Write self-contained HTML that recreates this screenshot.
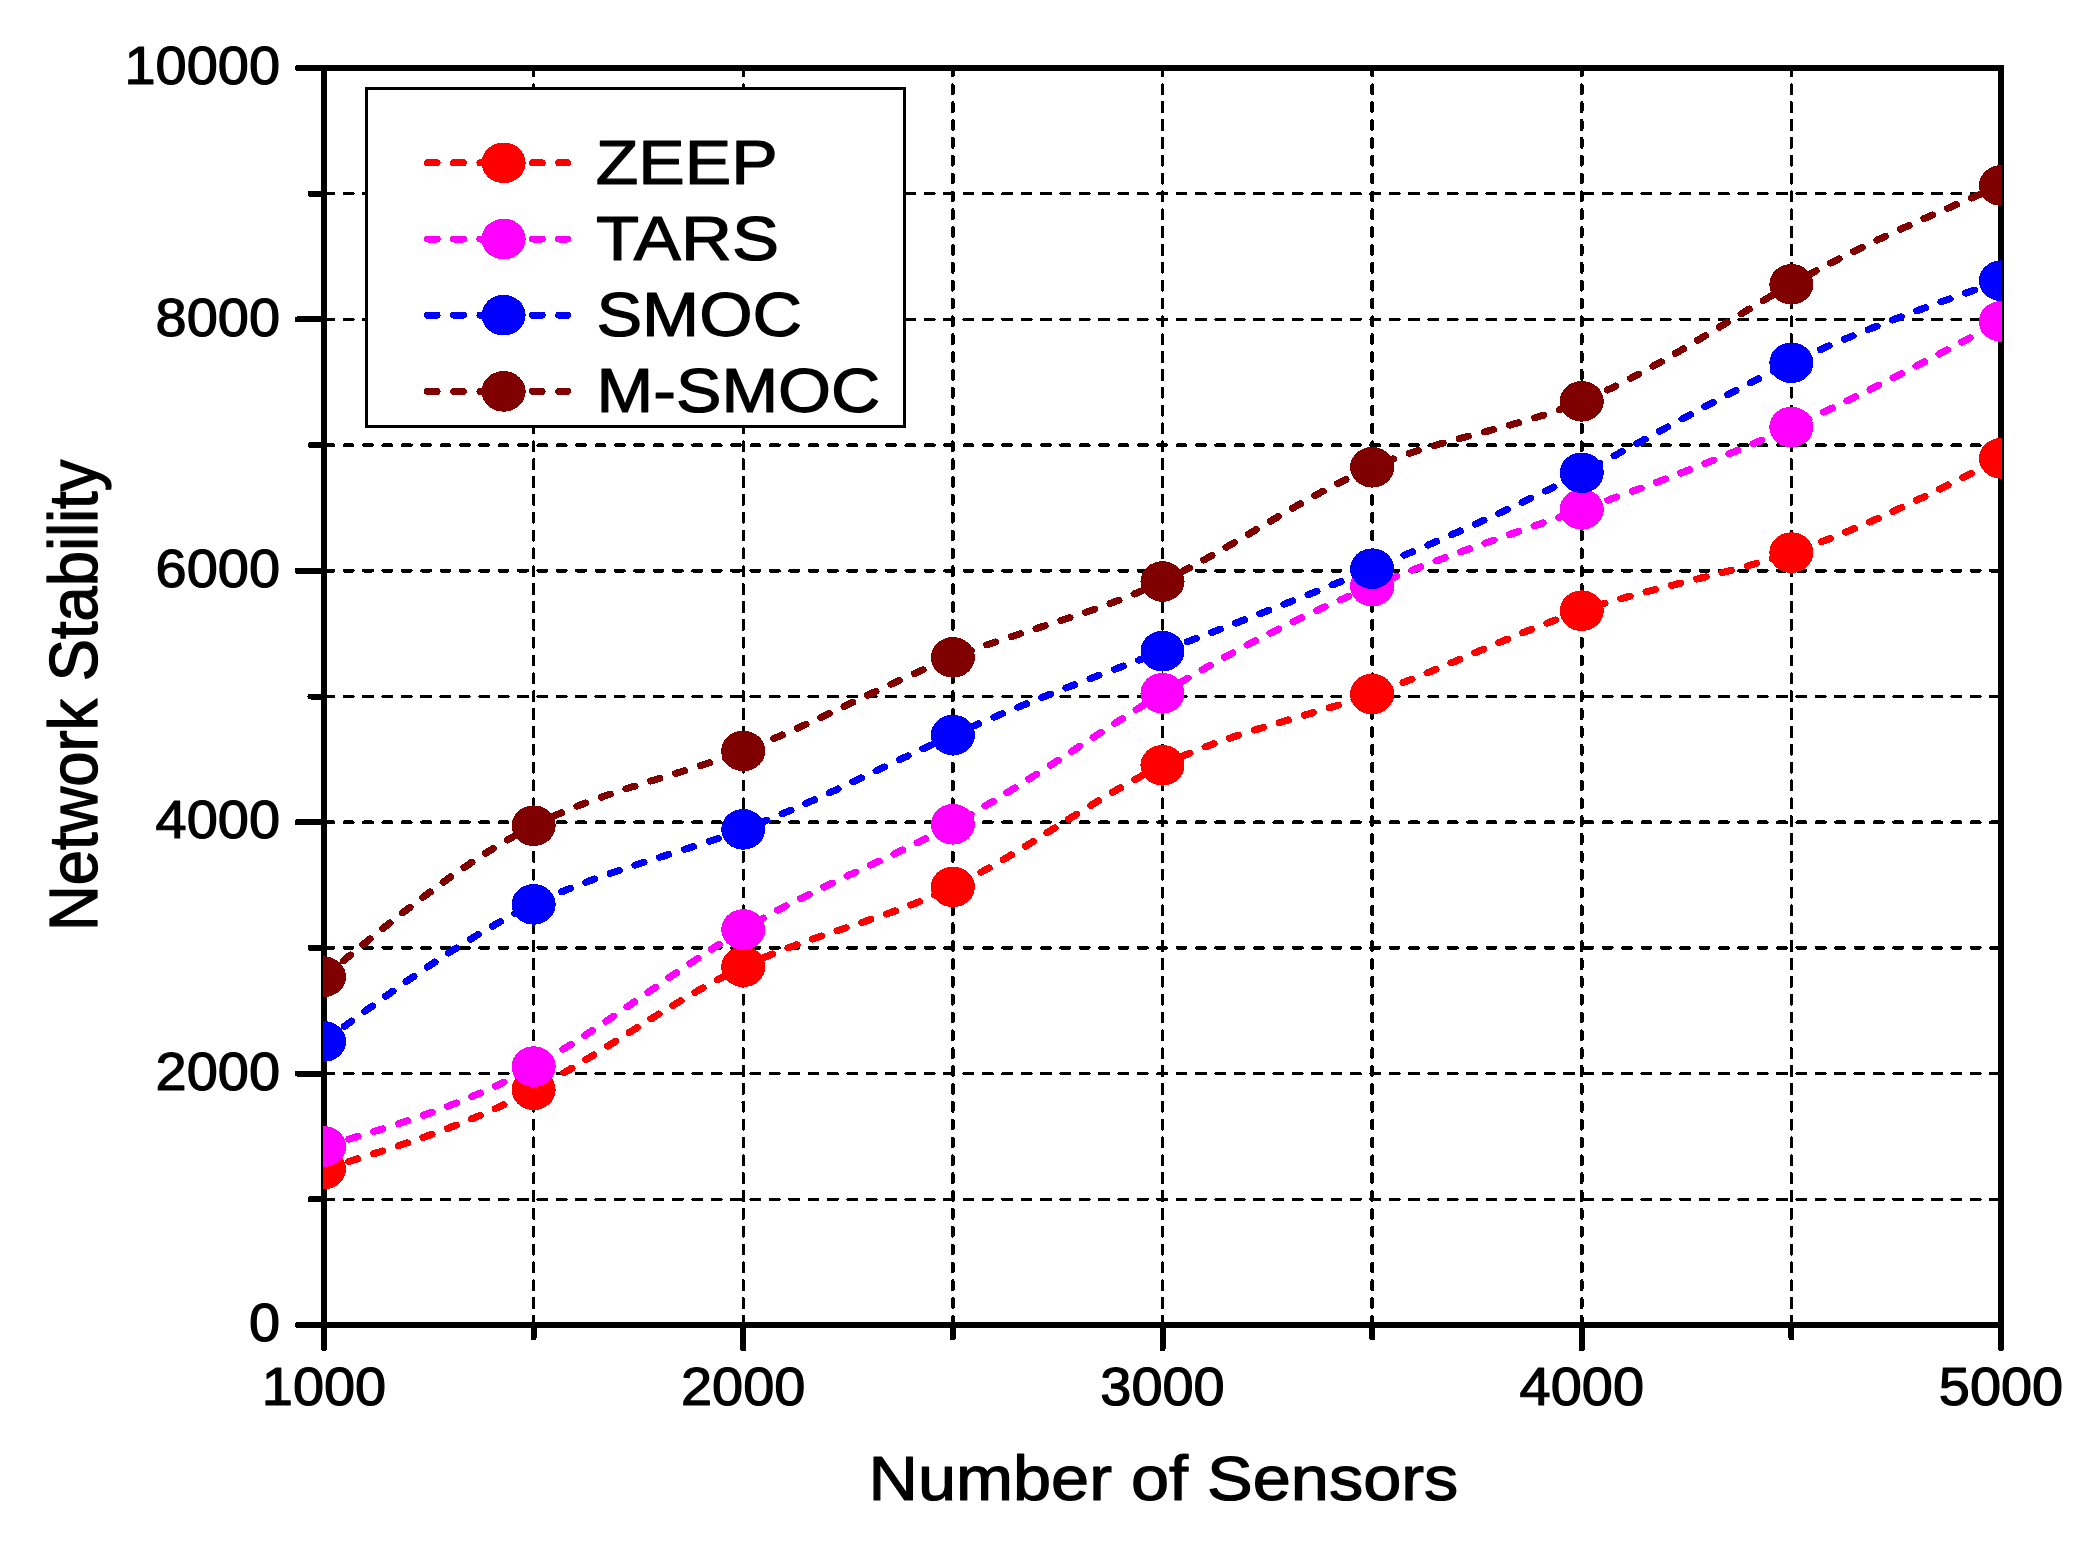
<!DOCTYPE html>
<html lang="en"><head><meta charset="utf-8"><title>Network Stability vs Number of Sensors</title>
<style>
html,body{margin:0;padding:0;background:#fff;}
body{width:2091px;height:1546px;overflow:hidden;}
svg{display:block;}
text{font-family:"Liberation Sans",Arial,Helvetica,sans-serif;fill:#000;stroke:#000;stroke-width:1.2px;stroke-linejoin:round;}
</style></head><body>
<svg width="2091" height="1546" viewBox="0 0 2091 1546" shape-rendering="crispEdges">
<rect x="0" y="0" width="2091" height="1546" fill="#ffffff"/>
<defs><clipPath id="plotclip"><rect x="323" y="60" width="1679.0" height="1275"/></clipPath></defs>
<g id="grid" stroke="#000" stroke-width="3.5" stroke-linecap="round" fill="none">
<line x1="325.00" y1="1199.30" x2="2001.00" y2="1199.30" stroke-dasharray="8.50 10.87"/>
<line x1="325.00" y1="1073.60" x2="2001.00" y2="1073.60" stroke-dasharray="8.50 10.87"/>
<line x1="325.00" y1="947.90" x2="2001.00" y2="947.90" stroke-dasharray="8.50 10.87"/>
<line x1="325.00" y1="822.20" x2="2001.00" y2="822.20" stroke-dasharray="8.50 10.87"/>
<line x1="325.00" y1="696.50" x2="2001.00" y2="696.50" stroke-dasharray="8.50 10.87"/>
<line x1="325.00" y1="570.80" x2="2001.00" y2="570.80" stroke-dasharray="8.50 10.87"/>
<line x1="325.00" y1="445.10" x2="2001.00" y2="445.10" stroke-dasharray="8.50 10.87"/>
<line x1="325.00" y1="319.40" x2="2001.00" y2="319.40" stroke-dasharray="8.50 10.87"/>
<line x1="325.00" y1="193.70" x2="2001.00" y2="193.70" stroke-dasharray="8.50 10.87"/>
<line x1="533.62" y1="67.20" x2="533.62" y2="1325.00" stroke-dasharray="8.50 9.35"/>
<line x1="743.25" y1="67.20" x2="743.25" y2="1325.00" stroke-dasharray="8.50 9.35"/>
<line x1="952.88" y1="67.20" x2="952.88" y2="1325.00" stroke-dasharray="8.50 9.35"/>
<line x1="1162.50" y1="67.20" x2="1162.50" y2="1325.00" stroke-dasharray="8.50 9.35"/>
<line x1="1372.12" y1="67.20" x2="1372.12" y2="1325.00" stroke-dasharray="8.50 9.35"/>
<line x1="1581.75" y1="67.20" x2="1581.75" y2="1325.00" stroke-dasharray="8.50 9.35"/>
<line x1="1791.38" y1="67.20" x2="1791.38" y2="1325.00" stroke-dasharray="8.50 9.35"/>
</g>
<g id="axes" stroke="#000" stroke-width="6" fill="none" stroke-linecap="butt">
<rect x="324.0" y="68.0" width="1677.0" height="1257.0"/>
<line x1="297.5" y1="1325.00" x2="324.0" y2="1325.00" stroke-linecap="round"/>
<line x1="310.5" y1="1199.30" x2="324.0" y2="1199.30" stroke-linecap="round"/>
<line x1="297.5" y1="1073.60" x2="324.0" y2="1073.60" stroke-linecap="round"/>
<line x1="310.5" y1="947.90" x2="324.0" y2="947.90" stroke-linecap="round"/>
<line x1="297.5" y1="822.20" x2="324.0" y2="822.20" stroke-linecap="round"/>
<line x1="310.5" y1="696.50" x2="324.0" y2="696.50" stroke-linecap="round"/>
<line x1="297.5" y1="570.80" x2="324.0" y2="570.80" stroke-linecap="round"/>
<line x1="310.5" y1="445.10" x2="324.0" y2="445.10" stroke-linecap="round"/>
<line x1="297.5" y1="319.40" x2="324.0" y2="319.40" stroke-linecap="round"/>
<line x1="310.5" y1="193.70" x2="324.0" y2="193.70" stroke-linecap="round"/>
<line x1="297.5" y1="68.00" x2="324.0" y2="68.00" stroke-linecap="round"/>
<line x1="324.00" y1="1325.0" x2="324.00" y2="1348.5" stroke-linecap="round"/>
<line x1="533.62" y1="1325.0" x2="533.62" y2="1337.5" stroke-linecap="round"/>
<line x1="743.25" y1="1325.0" x2="743.25" y2="1348.5" stroke-linecap="round"/>
<line x1="952.88" y1="1325.0" x2="952.88" y2="1337.5" stroke-linecap="round"/>
<line x1="1162.50" y1="1325.0" x2="1162.50" y2="1348.5" stroke-linecap="round"/>
<line x1="1372.12" y1="1325.0" x2="1372.12" y2="1337.5" stroke-linecap="round"/>
<line x1="1581.75" y1="1325.0" x2="1581.75" y2="1348.5" stroke-linecap="round"/>
<line x1="1791.38" y1="1325.0" x2="1791.38" y2="1337.5" stroke-linecap="round"/>
<line x1="2001.00" y1="1325.0" x2="2001.00" y2="1348.5" stroke-linecap="round"/>
</g>
<g id="data" clip-path="url(#plotclip)">
<g transform="scale(1.0850 1)">
<g id="s-zeep">
<path d="M298.62,1169.0 L301.38,1168.1 L304.15,1167.2 L306.91,1166.3 L309.68,1165.4 L312.44,1164.5 L315.21,1163.6 L317.97,1162.6 L320.74,1161.7 L323.50,1160.8 L326.27,1159.9 L329.03,1159.0 L331.80,1158.1 L334.56,1157.1 L337.33,1156.2 L340.09,1155.3 L342.86,1154.3 L345.62,1153.4 L348.39,1152.4 L351.15,1151.5 L353.92,1150.5 L356.68,1149.6 L359.45,1148.6 L362.21,1147.6 L364.98,1146.6 L367.74,1145.6 L370.51,1144.6 L373.27,1143.6 L376.04,1142.6 L378.80,1141.6 L381.57,1140.6 L384.33,1139.5 L387.10,1138.5 L389.86,1137.4 L392.63,1136.4 L395.39,1135.3 L398.16,1134.2 L400.92,1133.1 L403.69,1132.0 L406.45,1130.9 L409.22,1129.8 L411.98,1128.7 L414.75,1127.5 L417.51,1126.3 L420.28,1125.2 L423.04,1124.0 L425.81,1122.8 L428.57,1121.6 L431.34,1120.4 L434.10,1119.1 L436.87,1117.9 L439.63,1116.6 L442.40,1115.3 L445.16,1114.1 L447.93,1112.7 L450.69,1111.4 L453.46,1110.1 L456.22,1108.7 L458.99,1107.4 L461.75,1106.0 L464.52,1104.6 L467.28,1103.2 L470.05,1101.7 L472.81,1100.3 L475.58,1098.8 L478.34,1097.3 L481.11,1095.8 L483.87,1094.3 L486.64,1092.7 L489.40,1091.2 L492.17,1089.6 L494.93,1088.0 L497.70,1086.4 L500.46,1084.7 L503.23,1083.1 L505.99,1081.4 L508.76,1079.7 L511.52,1078.0 L514.29,1076.3 L517.05,1074.6 L519.82,1072.8 L522.58,1071.1 L525.35,1069.3 L528.11,1067.5 L530.88,1065.7 L533.64,1063.9 L536.41,1062.1 L539.17,1060.2 L541.94,1058.4 L544.70,1056.6 L547.47,1054.7 L550.23,1052.9 L553.00,1051.0 L555.76,1049.1 L558.53,1047.2 L561.29,1045.4 L564.06,1043.5 L566.82,1041.6 L569.59,1039.7 L572.35,1037.8 L575.12,1035.9 L577.88,1034.0 L580.65,1032.1 L583.41,1030.2 L586.18,1028.3 L588.94,1026.5 L591.71,1024.6 L594.47,1022.7 L597.24,1020.8 L600.00,1018.9 L602.76,1017.1 L605.53,1015.2 L608.29,1013.3 L611.06,1011.5 L613.82,1009.6 L616.59,1007.8 L619.35,1006.0 L622.12,1004.2 L624.88,1002.4 L627.65,1000.6 L630.41,998.8 L633.18,997.0 L635.94,995.2 L638.71,993.5 L641.47,991.8 L644.24,990.1 L647.00,988.3 L649.77,986.7 L652.53,985.0 L655.30,983.3 L658.06,981.7 L660.83,980.1 L663.59,978.5 L666.36,976.9 L669.12,975.3 L671.89,973.8 L674.65,972.3 L677.42,970.8 L680.18,969.3 L682.95,967.9 L685.71,966.4 L688.48,965.0 L691.24,963.7 L694.01,962.3 L696.77,961.0 L699.54,959.7 L702.30,958.4 L705.07,957.1 L707.83,955.9 L710.60,954.6 L713.36,953.4 L716.13,952.2 L718.89,951.0 L721.66,949.9 L724.42,948.7 L727.19,947.6 L729.95,946.5 L732.72,945.4 L735.48,944.3 L738.25,943.2 L741.01,942.1 L743.78,941.0 L746.54,940.0 L749.31,938.9 L752.07,937.9 L754.84,936.9 L757.60,935.8 L760.37,934.8 L763.13,933.8 L765.90,932.8 L768.66,931.8 L771.43,930.8 L774.19,929.8 L776.96,928.8 L779.72,927.8 L782.49,926.8 L785.25,925.8 L788.02,924.8 L790.78,923.8 L793.55,922.8 L796.31,921.8 L799.08,920.7 L801.84,919.7 L804.61,918.7 L807.37,917.7 L810.14,916.6 L812.90,915.6 L815.67,914.5 L818.43,913.5 L821.20,912.4 L823.96,911.3 L826.73,910.2 L829.49,909.1 L832.26,908.0 L835.02,906.9 L837.79,905.7 L840.55,904.6 L843.32,903.4 L846.08,902.2 L848.85,901.0 L851.61,899.8 L854.38,898.5 L857.14,897.2 L859.91,896.0 L862.67,894.7 L865.44,893.3 L868.20,892.0 L870.97,890.6 L873.73,889.2 L876.50,887.8 L879.26,886.4 L882.03,884.9 L884.79,883.4 L887.56,881.9 L890.32,880.3 L893.09,878.8 L895.85,877.2 L898.62,875.6 L901.38,874.0 L904.15,872.3 L906.91,870.7 L909.68,869.0 L912.44,867.3 L915.21,865.6 L917.97,863.9 L920.74,862.1 L923.50,860.4 L926.27,858.6 L929.03,856.8 L931.80,855.0 L934.56,853.2 L937.33,851.4 L940.09,849.6 L942.86,847.7 L945.62,845.9 L948.39,844.0 L951.15,842.2 L953.92,840.3 L956.68,838.5 L959.45,836.6 L962.21,834.7 L964.98,832.8 L967.74,830.9 L970.51,829.1 L973.27,827.2 L976.04,825.3 L978.80,823.4 L981.57,821.5 L984.33,819.6 L987.10,817.7 L989.86,815.9 L992.63,814.0 L995.39,812.1 L998.16,810.3 L1000.92,808.4 L1003.69,806.6 L1006.45,804.7 L1009.22,802.9 L1011.98,801.0 L1014.75,799.2 L1017.51,797.4 L1020.28,795.6 L1023.04,793.8 L1025.81,792.1 L1028.57,790.3 L1031.34,788.6 L1034.10,786.8 L1036.87,785.1 L1039.63,783.4 L1042.40,781.7 L1045.16,780.1 L1047.93,778.4 L1050.69,776.8 L1053.46,775.2 L1056.22,773.6 L1058.99,772.1 L1061.75,770.5 L1064.52,769.0 L1067.28,767.5 L1070.05,766.0 L1072.81,764.6 L1075.58,763.2 L1078.34,761.8 L1081.11,760.4 L1083.87,759.0 L1086.64,757.7 L1089.40,756.4 L1092.17,755.1 L1094.93,753.9 L1097.70,752.6 L1100.46,751.4 L1103.23,750.2 L1105.99,749.0 L1108.76,747.8 L1111.52,746.7 L1114.29,745.5 L1117.05,744.4 L1119.82,743.3 L1122.58,742.2 L1125.35,741.2 L1128.11,740.1 L1130.88,739.1 L1133.64,738.1 L1136.41,737.0 L1139.17,736.0 L1141.94,735.0 L1144.70,734.1 L1147.47,733.1 L1150.23,732.1 L1153.00,731.2 L1155.76,730.2 L1158.53,729.3 L1161.29,728.4 L1164.06,727.5 L1166.82,726.5 L1169.59,725.6 L1172.35,724.7 L1175.12,723.8 L1177.88,722.9 L1180.65,722.1 L1183.41,721.2 L1186.18,720.3 L1188.94,719.4 L1191.71,718.5 L1194.47,717.7 L1197.24,716.8 L1200.00,715.9 L1202.76,715.0 L1205.53,714.1 L1208.29,713.3 L1211.06,712.4 L1213.82,711.5 L1216.59,710.6 L1219.35,709.7 L1222.12,708.8 L1224.88,707.9 L1227.65,707.0 L1230.41,706.1 L1233.18,705.2 L1235.94,704.2 L1238.71,703.3 L1241.47,702.3 L1244.24,701.4 L1247.00,700.4 L1249.77,699.4 L1252.53,698.5 L1255.30,697.5 L1258.06,696.4 L1260.83,695.4 L1263.59,694.4 L1266.36,693.3 L1269.12,692.3 L1271.89,691.2 L1274.65,690.1 L1277.42,689.0 L1280.18,687.9 L1282.95,686.8 L1285.71,685.7 L1288.48,684.5 L1291.24,683.4 L1294.01,682.2 L1296.77,681.0 L1299.54,679.8 L1302.30,678.6 L1305.07,677.4 L1307.83,676.2 L1310.60,675.0 L1313.36,673.8 L1316.13,672.6 L1318.89,671.3 L1321.66,670.1 L1324.42,668.9 L1327.19,667.6 L1329.95,666.4 L1332.72,665.1 L1335.48,663.8 L1338.25,662.6 L1341.01,661.3 L1343.78,660.0 L1346.54,658.8 L1349.31,657.5 L1352.07,656.2 L1354.84,654.9 L1357.60,653.7 L1360.37,652.4 L1363.13,651.1 L1365.90,649.8 L1368.66,648.6 L1371.43,647.3 L1374.19,646.0 L1376.96,644.8 L1379.72,643.5 L1382.49,642.2 L1385.25,641.0 L1388.02,639.7 L1390.78,638.5 L1393.55,637.2 L1396.31,636.0 L1399.08,634.8 L1401.84,633.5 L1404.61,632.3 L1407.37,631.1 L1410.14,629.9 L1412.90,628.7 L1415.67,627.5 L1418.43,626.3 L1421.20,625.2 L1423.96,624.0 L1426.73,622.9 L1429.49,621.7 L1432.26,620.6 L1435.02,619.5 L1437.79,618.4 L1440.55,617.3 L1443.32,616.2 L1446.08,615.1 L1448.85,614.0 L1451.61,613.0 L1454.38,612.0 L1457.14,611.0 L1459.91,610.0 L1462.67,609.0 L1465.44,608.0 L1468.20,607.0 L1470.97,606.1 L1473.73,605.2 L1476.50,604.2 L1479.26,603.3 L1482.03,602.4 L1484.79,601.5 L1487.56,600.7 L1490.32,599.8 L1493.09,598.9 L1495.85,598.1 L1498.62,597.3 L1501.38,596.4 L1504.15,595.6 L1506.91,594.8 L1509.68,594.0 L1512.44,593.2 L1515.21,592.4 L1517.97,591.6 L1520.74,590.8 L1523.50,590.1 L1526.27,589.3 L1529.03,588.5 L1531.80,587.8 L1534.56,587.0 L1537.33,586.3 L1540.09,585.5 L1542.86,584.8 L1545.62,584.0 L1548.39,583.3 L1551.15,582.5 L1553.92,581.8 L1556.68,581.0 L1559.45,580.3 L1562.21,579.5 L1564.98,578.8 L1567.74,578.0 L1570.51,577.3 L1573.27,576.5 L1576.04,575.8 L1578.80,575.0 L1581.57,574.3 L1584.33,573.5 L1587.10,572.7 L1589.86,571.9 L1592.63,571.2 L1595.39,570.4 L1598.16,569.6 L1600.92,568.8 L1603.69,568.0 L1606.45,567.2 L1609.22,566.3 L1611.98,565.5 L1614.75,564.7 L1617.51,563.8 L1620.28,562.9 L1623.04,562.1 L1625.81,561.2 L1628.57,560.3 L1631.34,559.4 L1634.10,558.5 L1636.87,557.6 L1639.63,556.6 L1642.40,555.7 L1645.16,554.7 L1647.93,553.7 L1650.69,552.7 L1653.46,551.7 L1656.22,550.7 L1658.99,549.7 L1661.75,548.6 L1664.52,547.5 L1667.28,546.5 L1670.05,545.4 L1672.81,544.3 L1675.58,543.1 L1678.34,542.0 L1681.11,540.9 L1683.87,539.7 L1686.64,538.5 L1689.40,537.3 L1692.17,536.1 L1694.93,534.9 L1697.70,533.7 L1700.46,532.5 L1703.23,531.2 L1705.99,530.0 L1708.76,528.7 L1711.52,527.5 L1714.29,526.2 L1717.05,524.9 L1719.82,523.6 L1722.58,522.3 L1725.35,520.9 L1728.11,519.6 L1730.88,518.3 L1733.64,516.9 L1736.41,515.6 L1739.17,514.2 L1741.94,512.8 L1744.70,511.5 L1747.47,510.1 L1750.23,508.7 L1753.00,507.3 L1755.76,505.9 L1758.53,504.4 L1761.29,503.0 L1764.06,501.6 L1766.82,500.1 L1769.59,498.7 L1772.35,497.3 L1775.12,495.8 L1777.88,494.3 L1780.65,492.9 L1783.41,491.4 L1786.18,489.9 L1788.94,488.5 L1791.71,487.0 L1794.47,485.5 L1797.24,484.0 L1800.00,482.5 L1802.76,481.0 L1805.53,479.5 L1808.29,478.0 L1811.06,476.5 L1813.82,475.0 L1816.59,473.5 L1819.35,472.0 L1822.12,470.5 L1824.88,468.9 L1827.65,467.4 L1830.41,465.9 L1833.18,464.4 L1835.94,462.9 L1838.71,461.3 L1841.47,459.8 L1844.24,458.3" fill="none" stroke="#ff0000" stroke-width="7" stroke-linecap="round" stroke-linejoin="round" stroke-dasharray="8.40 15.80" stroke-dashoffset="0.0"/>
<circle cx="298.62" cy="1169.00" r="20.30" fill="#ff0000"/>
<circle cx="491.82" cy="1089.80" r="20.30" fill="#ff0000"/>
<circle cx="685.02" cy="966.80" r="20.30" fill="#ff0000"/>
<circle cx="878.23" cy="886.90" r="20.30" fill="#ff0000"/>
<circle cx="1071.43" cy="765.30" r="20.30" fill="#ff0000"/>
<circle cx="1264.63" cy="694.00" r="20.30" fill="#ff0000"/>
<circle cx="1457.83" cy="610.70" r="20.30" fill="#ff0000"/>
<circle cx="1651.04" cy="552.60" r="20.30" fill="#ff0000"/>
<circle cx="1844.24" cy="458.30" r="20.30" fill="#ff0000"/>
</g>
<g id="s-tars">
<path d="M298.62,1146.5 L301.38,1145.6 L304.15,1144.7 L306.91,1143.8 L309.68,1143.0 L312.44,1142.1 L315.21,1141.2 L317.97,1140.3 L320.74,1139.4 L323.50,1138.5 L326.27,1137.6 L329.03,1136.7 L331.80,1135.8 L334.56,1134.9 L337.33,1134.0 L340.09,1133.1 L342.86,1132.2 L345.62,1131.2 L348.39,1130.3 L351.15,1129.4 L353.92,1128.4 L356.68,1127.5 L359.45,1126.5 L362.21,1125.5 L364.98,1124.6 L367.74,1123.6 L370.51,1122.6 L373.27,1121.6 L376.04,1120.6 L378.80,1119.6 L381.57,1118.6 L384.33,1117.5 L387.10,1116.5 L389.86,1115.4 L392.63,1114.4 L395.39,1113.3 L398.16,1112.2 L400.92,1111.1 L403.69,1110.0 L406.45,1108.9 L409.22,1107.8 L411.98,1106.6 L414.75,1105.5 L417.51,1104.3 L420.28,1103.1 L423.04,1101.9 L425.81,1100.7 L428.57,1099.5 L431.34,1098.2 L434.10,1097.0 L436.87,1095.7 L439.63,1094.4 L442.40,1093.1 L445.16,1091.8 L447.93,1090.4 L450.69,1089.1 L453.46,1087.7 L456.22,1086.3 L458.99,1084.9 L461.75,1083.4 L464.52,1082.0 L467.28,1080.5 L470.05,1079.0 L472.81,1077.5 L475.58,1076.0 L478.34,1074.5 L481.11,1072.9 L483.87,1071.3 L486.64,1069.7 L489.40,1068.0 L492.17,1066.4 L494.93,1064.7 L497.70,1063.0 L500.46,1061.3 L503.23,1059.6 L505.99,1057.8 L508.76,1056.0 L511.52,1054.2 L514.29,1052.4 L517.05,1050.6 L519.82,1048.7 L522.58,1046.8 L525.35,1045.0 L528.11,1043.1 L530.88,1041.1 L533.64,1039.2 L536.41,1037.3 L539.17,1035.3 L541.94,1033.4 L544.70,1031.4 L547.47,1029.4 L550.23,1027.4 L553.00,1025.4 L555.76,1023.4 L558.53,1021.3 L561.29,1019.3 L564.06,1017.3 L566.82,1015.2 L569.59,1013.2 L572.35,1011.1 L575.12,1009.0 L577.88,1007.0 L580.65,1004.9 L583.41,1002.8 L586.18,1000.7 L588.94,998.6 L591.71,996.6 L594.47,994.5 L597.24,992.4 L600.00,990.3 L602.76,988.2 L605.53,986.1 L608.29,984.1 L611.06,982.0 L613.82,979.9 L616.59,977.8 L619.35,975.8 L622.12,973.7 L624.88,971.6 L627.65,969.6 L630.41,967.6 L633.18,965.5 L635.94,963.5 L638.71,961.5 L641.47,959.5 L644.24,957.5 L647.00,955.5 L649.77,953.5 L652.53,951.5 L655.30,949.6 L658.06,947.6 L660.83,945.7 L663.59,943.8 L666.36,941.9 L669.12,940.0 L671.89,938.1 L674.65,936.3 L677.42,934.5 L680.18,932.6 L682.95,930.8 L685.71,929.1 L688.48,927.3 L691.24,925.6 L694.01,923.8 L696.77,922.1 L699.54,920.4 L702.30,918.8 L705.07,917.1 L707.83,915.4 L710.60,913.8 L713.36,912.2 L716.13,910.6 L718.89,909.0 L721.66,907.5 L724.42,905.9 L727.19,904.3 L729.95,902.8 L732.72,901.3 L735.48,899.8 L738.25,898.3 L741.01,896.8 L743.78,895.3 L746.54,893.8 L749.31,892.3 L752.07,890.9 L754.84,889.4 L757.60,888.0 L760.37,886.5 L763.13,885.1 L765.90,883.7 L768.66,882.3 L771.43,880.8 L774.19,879.4 L776.96,878.0 L779.72,876.6 L782.49,875.2 L785.25,873.8 L788.02,872.4 L790.78,871.0 L793.55,869.6 L796.31,868.2 L799.08,866.8 L801.84,865.4 L804.61,864.0 L807.37,862.6 L810.14,861.2 L812.90,859.7 L815.67,858.3 L818.43,856.9 L821.20,855.5 L823.96,854.1 L826.73,852.6 L829.49,851.2 L832.26,849.7 L835.02,848.3 L837.79,846.8 L840.55,845.4 L843.32,843.9 L846.08,842.4 L848.85,840.9 L851.61,839.4 L854.38,837.9 L857.14,836.3 L859.91,834.8 L862.67,833.3 L865.44,831.7 L868.20,830.1 L870.97,828.5 L873.73,826.9 L876.50,825.3 L879.26,823.7 L882.03,822.0 L884.79,820.4 L887.56,818.7 L890.32,817.0 L893.09,815.3 L895.85,813.6 L898.62,811.9 L901.38,810.1 L904.15,808.4 L906.91,806.6 L909.68,804.8 L912.44,803.1 L915.21,801.3 L917.97,799.5 L920.74,797.6 L923.50,795.8 L926.27,794.0 L929.03,792.1 L931.80,790.3 L934.56,788.4 L937.33,786.5 L940.09,784.7 L942.86,782.8 L945.62,780.9 L948.39,779.0 L951.15,777.1 L953.92,775.2 L956.68,773.3 L959.45,771.3 L962.21,769.4 L964.98,767.5 L967.74,765.5 L970.51,763.6 L973.27,761.7 L976.04,759.7 L978.80,757.8 L981.57,755.8 L984.33,753.9 L987.10,751.9 L989.86,750.0 L992.63,748.0 L995.39,746.0 L998.16,744.1 L1000.92,742.1 L1003.69,740.2 L1006.45,738.2 L1009.22,736.3 L1011.98,734.3 L1014.75,732.4 L1017.51,730.4 L1020.28,728.5 L1023.04,726.5 L1025.81,724.6 L1028.57,722.6 L1031.34,720.7 L1034.10,718.8 L1036.87,716.8 L1039.63,714.9 L1042.40,713.0 L1045.16,711.1 L1047.93,709.2 L1050.69,707.3 L1053.46,705.4 L1056.22,703.5 L1058.99,701.6 L1061.75,699.8 L1064.52,697.9 L1067.28,696.1 L1070.05,694.2 L1072.81,692.4 L1075.58,690.6 L1078.34,688.7 L1081.11,686.9 L1083.87,685.1 L1086.64,683.3 L1089.40,681.6 L1092.17,679.8 L1094.93,678.0 L1097.70,676.3 L1100.46,674.5 L1103.23,672.8 L1105.99,671.1 L1108.76,669.4 L1111.52,667.7 L1114.29,666.0 L1117.05,664.3 L1119.82,662.6 L1122.58,660.9 L1125.35,659.2 L1128.11,657.6 L1130.88,655.9 L1133.64,654.3 L1136.41,652.7 L1139.17,651.1 L1141.94,649.4 L1144.70,647.8 L1147.47,646.2 L1150.23,644.7 L1153.00,643.1 L1155.76,641.5 L1158.53,640.0 L1161.29,638.4 L1164.06,636.9 L1166.82,635.3 L1169.59,633.8 L1172.35,632.3 L1175.12,630.8 L1177.88,629.3 L1180.65,627.8 L1183.41,626.3 L1186.18,624.8 L1188.94,623.3 L1191.71,621.9 L1194.47,620.4 L1197.24,619.0 L1200.00,617.5 L1202.76,616.1 L1205.53,614.7 L1208.29,613.3 L1211.06,611.9 L1213.82,610.5 L1216.59,609.1 L1219.35,607.7 L1222.12,606.3 L1224.88,605.0 L1227.65,603.6 L1230.41,602.3 L1233.18,600.9 L1235.94,599.6 L1238.71,598.3 L1241.47,596.9 L1244.24,595.6 L1247.00,594.3 L1249.77,593.0 L1252.53,591.7 L1255.30,590.5 L1258.06,589.2 L1260.83,587.9 L1263.59,586.7 L1266.36,585.4 L1269.12,584.2 L1271.89,582.9 L1274.65,581.7 L1277.42,580.5 L1280.18,579.3 L1282.95,578.1 L1285.71,576.9 L1288.48,575.7 L1291.24,574.5 L1294.01,573.3 L1296.77,572.1 L1299.54,571.0 L1302.30,569.8 L1305.07,568.6 L1307.83,567.5 L1310.60,566.3 L1313.36,565.2 L1316.13,564.1 L1318.89,562.9 L1321.66,561.8 L1324.42,560.7 L1327.19,559.5 L1329.95,558.4 L1332.72,557.3 L1335.48,556.2 L1338.25,555.1 L1341.01,554.0 L1343.78,552.9 L1346.54,551.8 L1349.31,550.7 L1352.07,549.7 L1354.84,548.6 L1357.60,547.5 L1360.37,546.4 L1363.13,545.4 L1365.90,544.3 L1368.66,543.2 L1371.43,542.2 L1374.19,541.1 L1376.96,540.0 L1379.72,539.0 L1382.49,537.9 L1385.25,536.9 L1388.02,535.8 L1390.78,534.8 L1393.55,533.7 L1396.31,532.7 L1399.08,531.6 L1401.84,530.6 L1404.61,529.5 L1407.37,528.5 L1410.14,527.5 L1412.90,526.4 L1415.67,525.4 L1418.43,524.3 L1421.20,523.3 L1423.96,522.2 L1426.73,521.2 L1429.49,520.2 L1432.26,519.1 L1435.02,518.1 L1437.79,517.0 L1440.55,516.0 L1443.32,514.9 L1446.08,513.9 L1448.85,512.8 L1451.61,511.8 L1454.38,510.7 L1457.14,509.7 L1459.91,508.6 L1462.67,507.5 L1465.44,506.5 L1468.20,505.4 L1470.97,504.4 L1473.73,503.3 L1476.50,502.2 L1479.26,501.2 L1482.03,500.1 L1484.79,499.0 L1487.56,497.9 L1490.32,496.8 L1493.09,495.8 L1495.85,494.7 L1498.62,493.6 L1501.38,492.5 L1504.15,491.4 L1506.91,490.3 L1509.68,489.2 L1512.44,488.1 L1515.21,487.0 L1517.97,485.9 L1520.74,484.7 L1523.50,483.6 L1526.27,482.5 L1529.03,481.4 L1531.80,480.2 L1534.56,479.1 L1537.33,478.0 L1540.09,476.8 L1542.86,475.7 L1545.62,474.5 L1548.39,473.4 L1551.15,472.2 L1553.92,471.1 L1556.68,469.9 L1559.45,468.7 L1562.21,467.6 L1564.98,466.4 L1567.74,465.2 L1570.51,464.0 L1573.27,462.8 L1576.04,461.6 L1578.80,460.4 L1581.57,459.2 L1584.33,458.0 L1587.10,456.8 L1589.86,455.5 L1592.63,454.3 L1595.39,453.1 L1598.16,451.8 L1600.92,450.6 L1603.69,449.4 L1606.45,448.1 L1609.22,446.8 L1611.98,445.6 L1614.75,444.3 L1617.51,443.0 L1620.28,441.7 L1623.04,440.5 L1625.81,439.2 L1628.57,437.9 L1631.34,436.5 L1634.10,435.2 L1636.87,433.9 L1639.63,432.6 L1642.40,431.3 L1645.16,429.9 L1647.93,428.6 L1650.69,427.2 L1653.46,425.9 L1656.22,424.5 L1658.99,423.1 L1661.75,421.7 L1664.52,420.4 L1667.28,419.0 L1670.05,417.6 L1672.81,416.2 L1675.58,414.8 L1678.34,413.3 L1681.11,411.9 L1683.87,410.5 L1686.64,409.1 L1689.40,407.6 L1692.17,406.2 L1694.93,404.7 L1697.70,403.3 L1700.46,401.8 L1703.23,400.4 L1705.99,398.9 L1708.76,397.4 L1711.52,395.9 L1714.29,394.5 L1717.05,393.0 L1719.82,391.5 L1722.58,390.0 L1725.35,388.5 L1728.11,387.0 L1730.88,385.5 L1733.64,384.0 L1736.41,382.5 L1739.17,380.9 L1741.94,379.4 L1744.70,377.9 L1747.47,376.4 L1750.23,374.8 L1753.00,373.3 L1755.76,371.8 L1758.53,370.2 L1761.29,368.7 L1764.06,367.1 L1766.82,365.6 L1769.59,364.0 L1772.35,362.5 L1775.12,360.9 L1777.88,359.3 L1780.65,357.8 L1783.41,356.2 L1786.18,354.6 L1788.94,353.1 L1791.71,351.5 L1794.47,349.9 L1797.24,348.3 L1800.00,346.8 L1802.76,345.2 L1805.53,343.6 L1808.29,342.0 L1811.06,340.5 L1813.82,338.9 L1816.59,337.3 L1819.35,335.7 L1822.12,334.1 L1824.88,332.5 L1827.65,330.9 L1830.41,329.3 L1833.18,327.8 L1835.94,326.2 L1838.71,324.6 L1841.47,323.0 L1844.24,321.4" fill="none" stroke="#ff00ff" stroke-width="7" stroke-linecap="round" stroke-linejoin="round" stroke-dasharray="8.40 15.80" stroke-dashoffset="0.0"/>
<circle cx="298.62" cy="1146.50" r="20.30" fill="#ff00ff"/>
<circle cx="491.82" cy="1066.60" r="20.30" fill="#ff00ff"/>
<circle cx="685.02" cy="929.50" r="20.30" fill="#ff00ff"/>
<circle cx="878.23" cy="824.30" r="20.30" fill="#ff00ff"/>
<circle cx="1071.43" cy="693.30" r="20.30" fill="#ff00ff"/>
<circle cx="1264.63" cy="586.20" r="20.30" fill="#ff00ff"/>
<circle cx="1457.83" cy="509.40" r="20.30" fill="#ff00ff"/>
<circle cx="1651.04" cy="427.05" r="20.30" fill="#ff00ff"/>
<circle cx="1844.24" cy="321.40" r="20.30" fill="#ff00ff"/>
</g>
<g id="s-smoc">
<path d="M298.62,1041.5 L301.38,1039.3 L304.15,1037.1 L306.91,1034.8 L309.68,1032.6 L312.44,1030.4 L315.21,1028.2 L317.97,1026.0 L320.74,1023.7 L323.50,1021.5 L326.27,1019.3 L329.03,1017.1 L331.80,1014.9 L334.56,1012.7 L337.33,1010.5 L340.09,1008.3 L342.86,1006.2 L345.62,1004.0 L348.39,1001.8 L351.15,999.6 L353.92,997.5 L356.68,995.3 L359.45,993.2 L362.21,991.0 L364.98,988.9 L367.74,986.8 L370.51,984.6 L373.27,982.5 L376.04,980.4 L378.80,978.3 L381.57,976.3 L384.33,974.2 L387.10,972.1 L389.86,970.1 L392.63,968.0 L395.39,966.0 L398.16,964.0 L400.92,962.0 L403.69,960.0 L406.45,958.0 L409.22,956.0 L411.98,954.0 L414.75,952.1 L417.51,950.2 L420.28,948.2 L423.04,946.3 L425.81,944.5 L428.57,942.6 L431.34,940.7 L434.10,938.9 L436.87,937.0 L439.63,935.2 L442.40,933.4 L445.16,931.6 L447.93,929.9 L450.69,928.1 L453.46,926.4 L456.22,924.7 L458.99,923.0 L461.75,921.3 L464.52,919.7 L467.28,918.0 L470.05,916.4 L472.81,914.8 L475.58,913.2 L478.34,911.7 L481.11,910.1 L483.87,908.6 L486.64,907.1 L489.40,905.7 L492.17,904.2 L494.93,902.8 L497.70,901.4 L500.46,900.0 L503.23,898.6 L505.99,897.3 L508.76,896.0 L511.52,894.7 L514.29,893.4 L517.05,892.1 L519.82,890.9 L522.58,889.6 L525.35,888.4 L528.11,887.2 L530.88,886.0 L533.64,884.9 L536.41,883.7 L539.17,882.6 L541.94,881.5 L544.70,880.3 L547.47,879.2 L550.23,878.2 L553.00,877.1 L555.76,876.0 L558.53,875.0 L561.29,873.9 L564.06,872.9 L566.82,871.9 L569.59,870.8 L572.35,869.8 L575.12,868.8 L577.88,867.8 L580.65,866.8 L583.41,865.9 L586.18,864.9 L588.94,863.9 L591.71,862.9 L594.47,862.0 L597.24,861.0 L600.00,860.1 L602.76,859.1 L605.53,858.2 L608.29,857.2 L611.06,856.3 L613.82,855.3 L616.59,854.4 L619.35,853.4 L622.12,852.5 L624.88,851.5 L627.65,850.6 L630.41,849.6 L633.18,848.6 L635.94,847.7 L638.71,846.7 L641.47,845.7 L644.24,844.8 L647.00,843.8 L649.77,842.8 L652.53,841.8 L655.30,840.8 L658.06,839.8 L660.83,838.8 L663.59,837.7 L666.36,836.7 L669.12,835.6 L671.89,834.6 L674.65,833.5 L677.42,832.4 L680.18,831.3 L682.95,830.2 L685.71,829.1 L688.48,828.0 L691.24,826.8 L694.01,825.7 L696.77,824.5 L699.54,823.3 L702.30,822.2 L705.07,821.0 L707.83,819.7 L710.60,818.5 L713.36,817.3 L716.13,816.0 L718.89,814.8 L721.66,813.5 L724.42,812.2 L727.19,811.0 L729.95,809.7 L732.72,808.4 L735.48,807.1 L738.25,805.7 L741.01,804.4 L743.78,803.1 L746.54,801.7 L749.31,800.4 L752.07,799.0 L754.84,797.7 L757.60,796.3 L760.37,794.9 L763.13,793.6 L765.90,792.2 L768.66,790.8 L771.43,789.4 L774.19,788.0 L776.96,786.6 L779.72,785.2 L782.49,783.8 L785.25,782.4 L788.02,781.0 L790.78,779.6 L793.55,778.1 L796.31,776.7 L799.08,775.3 L801.84,773.9 L804.61,772.5 L807.37,771.0 L810.14,769.6 L812.90,768.2 L815.67,766.8 L818.43,765.3 L821.20,763.9 L823.96,762.5 L826.73,761.1 L829.49,759.6 L832.26,758.2 L835.02,756.8 L837.79,755.4 L840.55,754.0 L843.32,752.6 L846.08,751.1 L848.85,749.7 L851.61,748.3 L854.38,746.9 L857.14,745.6 L859.91,744.2 L862.67,742.8 L865.44,741.4 L868.20,740.0 L870.97,738.7 L873.73,737.3 L876.50,735.9 L879.26,734.6 L882.03,733.3 L884.79,731.9 L887.56,730.6 L890.32,729.3 L893.09,727.9 L895.85,726.6 L898.62,725.3 L901.38,724.0 L904.15,722.7 L906.91,721.5 L909.68,720.2 L912.44,718.9 L915.21,717.6 L917.97,716.4 L920.74,715.1 L923.50,713.8 L926.27,712.6 L929.03,711.3 L931.80,710.1 L934.56,708.9 L937.33,707.6 L940.09,706.4 L942.86,705.2 L945.62,704.0 L948.39,702.7 L951.15,701.5 L953.92,700.3 L956.68,699.1 L959.45,697.9 L962.21,696.7 L964.98,695.5 L967.74,694.3 L970.51,693.2 L973.27,692.0 L976.04,690.8 L978.80,689.6 L981.57,688.4 L984.33,687.3 L987.10,686.1 L989.86,684.9 L992.63,683.8 L995.39,682.6 L998.16,681.5 L1000.92,680.3 L1003.69,679.1 L1006.45,678.0 L1009.22,676.8 L1011.98,675.7 L1014.75,674.5 L1017.51,673.4 L1020.28,672.3 L1023.04,671.1 L1025.81,670.0 L1028.57,668.8 L1031.34,667.7 L1034.10,666.5 L1036.87,665.4 L1039.63,664.3 L1042.40,663.1 L1045.16,662.0 L1047.93,660.9 L1050.69,659.7 L1053.46,658.6 L1056.22,657.5 L1058.99,656.3 L1061.75,655.2 L1064.52,654.0 L1067.28,652.9 L1070.05,651.8 L1072.81,650.6 L1075.58,649.5 L1078.34,648.4 L1081.11,647.2 L1083.87,646.1 L1086.64,644.9 L1089.40,643.8 L1092.17,642.6 L1094.93,641.5 L1097.70,640.4 L1100.46,639.2 L1103.23,638.1 L1105.99,636.9 L1108.76,635.8 L1111.52,634.6 L1114.29,633.5 L1117.05,632.3 L1119.82,631.2 L1122.58,630.0 L1125.35,628.9 L1128.11,627.7 L1130.88,626.5 L1133.64,625.4 L1136.41,624.2 L1139.17,623.1 L1141.94,621.9 L1144.70,620.7 L1147.47,619.6 L1150.23,618.4 L1153.00,617.2 L1155.76,616.1 L1158.53,614.9 L1161.29,613.7 L1164.06,612.6 L1166.82,611.4 L1169.59,610.2 L1172.35,609.0 L1175.12,607.9 L1177.88,606.7 L1180.65,605.5 L1183.41,604.3 L1186.18,603.1 L1188.94,601.9 L1191.71,600.7 L1194.47,599.6 L1197.24,598.4 L1200.00,597.2 L1202.76,596.0 L1205.53,594.8 L1208.29,593.6 L1211.06,592.4 L1213.82,591.2 L1216.59,590.0 L1219.35,588.8 L1222.12,587.6 L1224.88,586.3 L1227.65,585.1 L1230.41,583.9 L1233.18,582.7 L1235.94,581.5 L1238.71,580.3 L1241.47,579.0 L1244.24,577.8 L1247.00,576.6 L1249.77,575.4 L1252.53,574.1 L1255.30,572.9 L1258.06,571.6 L1260.83,570.4 L1263.59,569.2 L1266.36,567.9 L1269.12,566.7 L1271.89,565.4 L1274.65,564.2 L1277.42,562.9 L1280.18,561.7 L1282.95,560.4 L1285.71,559.1 L1288.48,557.9 L1291.24,556.6 L1294.01,555.3 L1296.77,554.1 L1299.54,552.8 L1302.30,551.5 L1305.07,550.2 L1307.83,548.9 L1310.60,547.6 L1313.36,546.4 L1316.13,545.1 L1318.89,543.8 L1321.66,542.5 L1324.42,541.2 L1327.19,539.8 L1329.95,538.5 L1332.72,537.2 L1335.48,535.9 L1338.25,534.6 L1341.01,533.2 L1343.78,531.9 L1346.54,530.6 L1349.31,529.2 L1352.07,527.9 L1354.84,526.5 L1357.60,525.2 L1360.37,523.8 L1363.13,522.5 L1365.90,521.1 L1368.66,519.7 L1371.43,518.3 L1374.19,517.0 L1376.96,515.6 L1379.72,514.2 L1382.49,512.8 L1385.25,511.4 L1388.02,510.0 L1390.78,508.6 L1393.55,507.2 L1396.31,505.8 L1399.08,504.3 L1401.84,502.9 L1404.61,501.5 L1407.37,500.0 L1410.14,498.6 L1412.90,497.1 L1415.67,495.7 L1418.43,494.2 L1421.20,492.8 L1423.96,491.3 L1426.73,489.8 L1429.49,488.3 L1432.26,486.8 L1435.02,485.3 L1437.79,483.8 L1440.55,482.3 L1443.32,480.8 L1446.08,479.3 L1448.85,477.8 L1451.61,476.3 L1454.38,474.7 L1457.14,473.2 L1459.91,471.6 L1462.67,470.1 L1465.44,468.5 L1468.20,467.0 L1470.97,465.4 L1473.73,463.8 L1476.50,462.2 L1479.26,460.6 L1482.03,459.1 L1484.79,457.5 L1487.56,455.9 L1490.32,454.3 L1493.09,452.7 L1495.85,451.0 L1498.62,449.4 L1501.38,447.8 L1504.15,446.2 L1506.91,444.6 L1509.68,443.0 L1512.44,441.3 L1515.21,439.7 L1517.97,438.1 L1520.74,436.5 L1523.50,434.8 L1526.27,433.2 L1529.03,431.6 L1531.80,429.9 L1534.56,428.3 L1537.33,426.7 L1540.09,425.1 L1542.86,423.4 L1545.62,421.8 L1548.39,420.2 L1551.15,418.5 L1553.92,416.9 L1556.68,415.3 L1559.45,413.7 L1562.21,412.1 L1564.98,410.5 L1567.74,408.8 L1570.51,407.2 L1573.27,405.6 L1576.04,404.0 L1578.80,402.4 L1581.57,400.8 L1584.33,399.2 L1587.10,397.7 L1589.86,396.1 L1592.63,394.5 L1595.39,392.9 L1598.16,391.4 L1600.92,389.8 L1603.69,388.3 L1606.45,386.7 L1609.22,385.2 L1611.98,383.6 L1614.75,382.1 L1617.51,380.6 L1620.28,379.1 L1623.04,377.6 L1625.81,376.1 L1628.57,374.6 L1631.34,373.1 L1634.10,371.6 L1636.87,370.2 L1639.63,368.7 L1642.40,367.3 L1645.16,365.8 L1647.93,364.4 L1650.69,363.0 L1653.46,361.6 L1656.22,360.2 L1658.99,358.8 L1661.75,357.4 L1664.52,356.0 L1667.28,354.7 L1670.05,353.3 L1672.81,352.0 L1675.58,350.7 L1678.34,349.3 L1681.11,348.0 L1683.87,346.7 L1686.64,345.4 L1689.40,344.1 L1692.17,342.9 L1694.93,341.6 L1697.70,340.3 L1700.46,339.1 L1703.23,337.8 L1705.99,336.6 L1708.76,335.3 L1711.52,334.1 L1714.29,332.9 L1717.05,331.7 L1719.82,330.5 L1722.58,329.3 L1725.35,328.1 L1728.11,326.9 L1730.88,325.7 L1733.64,324.5 L1736.41,323.4 L1739.17,322.2 L1741.94,321.0 L1744.70,319.9 L1747.47,318.7 L1750.23,317.6 L1753.00,316.4 L1755.76,315.3 L1758.53,314.2 L1761.29,313.1 L1764.06,311.9 L1766.82,310.8 L1769.59,309.7 L1772.35,308.6 L1775.12,307.5 L1777.88,306.4 L1780.65,305.3 L1783.41,304.2 L1786.18,303.1 L1788.94,302.0 L1791.71,300.9 L1794.47,299.9 L1797.24,298.8 L1800.00,297.7 L1802.76,296.6 L1805.53,295.6 L1808.29,294.5 L1811.06,293.4 L1813.82,292.4 L1816.59,291.3 L1819.35,290.2 L1822.12,289.2 L1824.88,288.1 L1827.65,287.0 L1830.41,286.0 L1833.18,284.9 L1835.94,283.9 L1838.71,282.8 L1841.47,281.8 L1844.24,280.7" fill="none" stroke="#0000ff" stroke-width="7" stroke-linecap="round" stroke-linejoin="round" stroke-dasharray="8.40 15.80" stroke-dashoffset="0.0"/>
<circle cx="298.62" cy="1041.50" r="20.30" fill="#0000ff"/>
<circle cx="491.82" cy="904.40" r="20.30" fill="#0000ff"/>
<circle cx="685.02" cy="829.40" r="20.30" fill="#0000ff"/>
<circle cx="878.23" cy="735.10" r="20.30" fill="#0000ff"/>
<circle cx="1071.43" cy="651.20" r="20.30" fill="#0000ff"/>
<circle cx="1264.63" cy="568.70" r="20.30" fill="#0000ff"/>
<circle cx="1457.83" cy="472.80" r="20.30" fill="#0000ff"/>
<circle cx="1651.04" cy="362.80" r="20.30" fill="#0000ff"/>
<circle cx="1844.24" cy="280.70" r="20.30" fill="#0000ff"/>
</g>
<g id="s-m-smoc">
<path d="M298.62,976.8 L301.38,974.3 L304.15,971.8 L306.91,969.3 L309.68,966.8 L312.44,964.3 L315.21,961.9 L317.97,959.4 L320.74,956.9 L323.50,954.5 L326.27,952.0 L329.03,949.5 L331.80,947.1 L334.56,944.6 L337.33,942.2 L340.09,939.7 L342.86,937.3 L345.62,934.9 L348.39,932.5 L351.15,930.0 L353.92,927.6 L356.68,925.2 L359.45,922.8 L362.21,920.5 L364.98,918.1 L367.74,915.7 L370.51,913.4 L373.27,911.0 L376.04,908.7 L378.80,906.4 L381.57,904.1 L384.33,901.8 L387.10,899.5 L389.86,897.2 L392.63,894.9 L395.39,892.7 L398.16,890.5 L400.92,888.2 L403.69,886.0 L406.45,883.8 L409.22,881.7 L411.98,879.5 L414.75,877.4 L417.51,875.2 L420.28,873.1 L423.04,871.0 L425.81,869.0 L428.57,866.9 L431.34,864.9 L434.10,862.8 L436.87,860.8 L439.63,858.9 L442.40,856.9 L445.16,855.0 L447.93,853.0 L450.69,851.1 L453.46,849.3 L456.22,847.4 L458.99,845.6 L461.75,843.8 L464.52,842.0 L467.28,840.2 L470.05,838.5 L472.81,836.8 L475.58,835.1 L478.34,833.4 L481.11,831.8 L483.87,830.2 L486.64,828.6 L489.40,827.0 L492.17,825.5 L494.93,824.0 L497.70,822.5 L500.46,821.1 L503.23,819.7 L505.99,818.3 L508.76,816.9 L511.52,815.5 L514.29,814.2 L517.05,812.9 L519.82,811.6 L522.58,810.3 L525.35,809.1 L528.11,807.9 L530.88,806.7 L533.64,805.5 L536.41,804.3 L539.17,803.2 L541.94,802.0 L544.70,800.9 L547.47,799.8 L550.23,798.7 L553.00,797.7 L555.76,796.6 L558.53,795.6 L561.29,794.5 L564.06,793.5 L566.82,792.5 L569.59,791.5 L572.35,790.5 L575.12,789.5 L577.88,788.5 L580.65,787.6 L583.41,786.6 L586.18,785.7 L588.94,784.7 L591.71,783.8 L594.47,782.9 L597.24,781.9 L600.00,781.0 L602.76,780.1 L605.53,779.2 L608.29,778.2 L611.06,777.3 L613.82,776.4 L616.59,775.5 L619.35,774.6 L622.12,773.6 L624.88,772.7 L627.65,771.8 L630.41,770.9 L633.18,769.9 L635.94,769.0 L638.71,768.0 L641.47,767.1 L644.24,766.1 L647.00,765.2 L649.77,764.2 L652.53,763.2 L655.30,762.2 L658.06,761.3 L660.83,760.2 L663.59,759.2 L666.36,758.2 L669.12,757.2 L671.89,756.1 L674.65,755.0 L677.42,754.0 L680.18,752.9 L682.95,751.7 L685.71,750.6 L688.48,749.5 L691.24,748.3 L694.01,747.1 L696.77,745.9 L699.54,744.7 L702.30,743.5 L705.07,742.3 L707.83,741.0 L710.60,739.8 L713.36,738.5 L716.13,737.2 L718.89,735.9 L721.66,734.6 L724.42,733.3 L727.19,732.0 L729.95,730.7 L732.72,729.3 L735.48,728.0 L738.25,726.6 L741.01,725.2 L743.78,723.9 L746.54,722.5 L749.31,721.1 L752.07,719.7 L754.84,718.3 L757.60,716.9 L760.37,715.5 L763.13,714.1 L765.90,712.7 L768.66,711.2 L771.43,709.8 L774.19,708.4 L776.96,707.0 L779.72,705.5 L782.49,704.1 L785.25,702.7 L788.02,701.2 L790.78,699.8 L793.55,698.4 L796.31,697.0 L799.08,695.5 L801.84,694.1 L804.61,692.7 L807.37,691.3 L810.14,689.9 L812.90,688.4 L815.67,687.0 L818.43,685.6 L821.20,684.2 L823.96,682.9 L826.73,681.5 L829.49,680.1 L832.26,678.7 L835.02,677.4 L837.79,676.0 L840.55,674.7 L843.32,673.3 L846.08,672.0 L848.85,670.7 L851.61,669.4 L854.38,668.1 L857.14,666.8 L859.91,665.5 L862.67,664.3 L865.44,663.0 L868.20,661.8 L870.97,660.5 L873.73,659.3 L876.50,658.1 L879.26,657.0 L882.03,655.8 L884.79,654.6 L887.56,653.5 L890.32,652.4 L893.09,651.3 L895.85,650.2 L898.62,649.1 L901.38,648.0 L904.15,646.9 L906.91,645.9 L909.68,644.8 L912.44,643.8 L915.21,642.8 L917.97,641.8 L920.74,640.7 L923.50,639.7 L926.27,638.7 L929.03,637.7 L931.80,636.8 L934.56,635.8 L937.33,634.8 L940.09,633.8 L942.86,632.8 L945.62,631.9 L948.39,630.9 L951.15,629.9 L953.92,629.0 L956.68,628.0 L959.45,627.0 L962.21,626.1 L964.98,625.1 L967.74,624.1 L970.51,623.2 L973.27,622.2 L976.04,621.2 L978.80,620.2 L981.57,619.2 L984.33,618.2 L987.10,617.3 L989.86,616.2 L992.63,615.2 L995.39,614.2 L998.16,613.2 L1000.92,612.2 L1003.69,611.1 L1006.45,610.1 L1009.22,609.0 L1011.98,608.0 L1014.75,606.9 L1017.51,605.8 L1020.28,604.7 L1023.04,603.6 L1025.81,602.4 L1028.57,601.3 L1031.34,600.1 L1034.10,599.0 L1036.87,597.8 L1039.63,596.6 L1042.40,595.4 L1045.16,594.1 L1047.93,592.9 L1050.69,591.6 L1053.46,590.3 L1056.22,589.0 L1058.99,587.7 L1061.75,586.4 L1064.52,585.0 L1067.28,583.6 L1070.05,582.2 L1072.81,580.8 L1075.58,579.3 L1078.34,577.9 L1081.11,576.4 L1083.87,574.9 L1086.64,573.3 L1089.40,571.8 L1092.17,570.2 L1094.93,568.6 L1097.70,567.0 L1100.46,565.4 L1103.23,563.8 L1105.99,562.1 L1108.76,560.5 L1111.52,558.8 L1114.29,557.1 L1117.05,555.4 L1119.82,553.7 L1122.58,552.0 L1125.35,550.3 L1128.11,548.6 L1130.88,546.8 L1133.64,545.1 L1136.41,543.3 L1139.17,541.6 L1141.94,539.8 L1144.70,538.0 L1147.47,536.3 L1150.23,534.5 L1153.00,532.7 L1155.76,530.9 L1158.53,529.1 L1161.29,527.4 L1164.06,525.6 L1166.82,523.8 L1169.59,522.0 L1172.35,520.3 L1175.12,518.5 L1177.88,516.7 L1180.65,515.0 L1183.41,513.2 L1186.18,511.4 L1188.94,509.7 L1191.71,508.0 L1194.47,506.2 L1197.24,504.5 L1200.00,502.8 L1202.76,501.1 L1205.53,499.4 L1208.29,497.7 L1211.06,496.1 L1213.82,494.4 L1216.59,492.8 L1219.35,491.2 L1222.12,489.6 L1224.88,488.0 L1227.65,486.4 L1230.41,484.8 L1233.18,483.3 L1235.94,481.8 L1238.71,480.3 L1241.47,478.8 L1244.24,477.4 L1247.00,475.9 L1249.77,474.5 L1252.53,473.1 L1255.30,471.7 L1258.06,470.4 L1260.83,469.1 L1263.59,467.8 L1266.36,466.5 L1269.12,465.3 L1271.89,464.1 L1274.65,462.9 L1277.42,461.7 L1280.18,460.6 L1282.95,459.4 L1285.71,458.3 L1288.48,457.3 L1291.24,456.2 L1294.01,455.2 L1296.77,454.1 L1299.54,453.1 L1302.30,452.2 L1305.07,451.2 L1307.83,450.2 L1310.60,449.3 L1313.36,448.4 L1316.13,447.5 L1318.89,446.6 L1321.66,445.7 L1324.42,444.8 L1327.19,443.9 L1329.95,443.1 L1332.72,442.3 L1335.48,441.4 L1338.25,440.6 L1341.01,439.8 L1343.78,439.0 L1346.54,438.1 L1349.31,437.3 L1352.07,436.5 L1354.84,435.7 L1357.60,435.0 L1360.37,434.2 L1363.13,433.4 L1365.90,432.6 L1368.66,431.8 L1371.43,431.0 L1374.19,430.2 L1376.96,429.4 L1379.72,428.6 L1382.49,427.8 L1385.25,427.0 L1388.02,426.2 L1390.78,425.3 L1393.55,424.5 L1396.31,423.7 L1399.08,422.8 L1401.84,422.0 L1404.61,421.1 L1407.37,420.2 L1410.14,419.3 L1412.90,418.4 L1415.67,417.5 L1418.43,416.6 L1421.20,415.6 L1423.96,414.7 L1426.73,413.7 L1429.49,412.7 L1432.26,411.7 L1435.02,410.7 L1437.79,409.6 L1440.55,408.5 L1443.32,407.4 L1446.08,406.3 L1448.85,405.2 L1451.61,404.0 L1454.38,402.9 L1457.14,401.7 L1459.91,400.4 L1462.67,399.2 L1465.44,397.9 L1468.20,396.6 L1470.97,395.3 L1473.73,393.9 L1476.50,392.5 L1479.26,391.1 L1482.03,389.7 L1484.79,388.3 L1487.56,386.8 L1490.32,385.4 L1493.09,383.9 L1495.85,382.4 L1498.62,380.8 L1501.38,379.3 L1504.15,377.7 L1506.91,376.1 L1509.68,374.5 L1512.44,372.9 L1515.21,371.3 L1517.97,369.7 L1520.74,368.0 L1523.50,366.3 L1526.27,364.6 L1529.03,363.0 L1531.80,361.3 L1534.56,359.5 L1537.33,357.8 L1540.09,356.1 L1542.86,354.3 L1545.62,352.6 L1548.39,350.8 L1551.15,349.0 L1553.92,347.3 L1556.68,345.5 L1559.45,343.7 L1562.21,341.9 L1564.98,340.1 L1567.74,338.3 L1570.51,336.5 L1573.27,334.6 L1576.04,332.8 L1578.80,331.0 L1581.57,329.2 L1584.33,327.4 L1587.10,325.5 L1589.86,323.7 L1592.63,321.9 L1595.39,320.1 L1598.16,318.2 L1600.92,316.4 L1603.69,314.6 L1606.45,312.8 L1609.22,311.0 L1611.98,309.1 L1614.75,307.3 L1617.51,305.5 L1620.28,303.7 L1623.04,302.0 L1625.81,300.2 L1628.57,298.4 L1631.34,296.6 L1634.10,294.9 L1636.87,293.1 L1639.63,291.4 L1642.40,289.6 L1645.16,287.9 L1647.93,286.2 L1650.69,284.5 L1653.46,282.8 L1656.22,281.1 L1658.99,279.5 L1661.75,277.8 L1664.52,276.2 L1667.28,274.6 L1670.05,272.9 L1672.81,271.3 L1675.58,269.7 L1678.34,268.1 L1681.11,266.6 L1683.87,265.0 L1686.64,263.4 L1689.40,261.9 L1692.17,260.4 L1694.93,258.8 L1697.70,257.3 L1700.46,255.8 L1703.23,254.3 L1705.99,252.8 L1708.76,251.3 L1711.52,249.8 L1714.29,248.4 L1717.05,246.9 L1719.82,245.5 L1722.58,244.0 L1725.35,242.6 L1728.11,241.2 L1730.88,239.7 L1733.64,238.3 L1736.41,236.9 L1739.17,235.5 L1741.94,234.1 L1744.70,232.7 L1747.47,231.3 L1750.23,230.0 L1753.00,228.6 L1755.76,227.2 L1758.53,225.9 L1761.29,224.5 L1764.06,223.2 L1766.82,221.8 L1769.59,220.5 L1772.35,219.1 L1775.12,217.8 L1777.88,216.5 L1780.65,215.2 L1783.41,213.8 L1786.18,212.5 L1788.94,211.2 L1791.71,209.9 L1794.47,208.6 L1797.24,207.3 L1800.00,206.0 L1802.76,204.7 L1805.53,203.4 L1808.29,202.1 L1811.06,200.8 L1813.82,199.6 L1816.59,198.3 L1819.35,197.0 L1822.12,195.7 L1824.88,194.4 L1827.65,193.2 L1830.41,191.9 L1833.18,190.6 L1835.94,189.3 L1838.71,188.0 L1841.47,186.8 L1844.24,185.5" fill="none" stroke="#800000" stroke-width="7" stroke-linecap="round" stroke-linejoin="round" stroke-dasharray="8.40 15.80" stroke-dashoffset="0.0"/>
<circle cx="298.62" cy="976.75" r="20.30" fill="#800000"/>
<circle cx="491.82" cy="825.70" r="20.30" fill="#800000"/>
<circle cx="685.02" cy="750.90" r="20.30" fill="#800000"/>
<circle cx="878.23" cy="657.40" r="20.30" fill="#800000"/>
<circle cx="1071.43" cy="581.50" r="20.30" fill="#800000"/>
<circle cx="1264.63" cy="467.30" r="20.30" fill="#800000"/>
<circle cx="1457.83" cy="401.35" r="20.30" fill="#800000"/>
<circle cx="1651.04" cy="284.30" r="20.30" fill="#800000"/>
<circle cx="1844.24" cy="185.50" r="20.30" fill="#800000"/>
</g>
</g>
</g>
<g id="legend">
<rect x="366.5" y="88.5" width="538" height="337.5" fill="#fff" stroke="#000" stroke-width="3"/>
<g transform="scale(1.0850 1)">
<line x1="394.19" y1="162.8" x2="522.86" y2="162.8" stroke="#ff0000" stroke-width="7" stroke-linecap="round" stroke-dasharray="8.40 15.80"/>
<circle cx="464.15" cy="162.8" r="20.30" fill="#ff0000"/>
</g>
<text class="leg" transform="translate(595.7 183.6) scale(1.094 1)" font-size="63.7">ZEEP</text>
<g transform="scale(1.0850 1)">
<line x1="394.19" y1="239.0" x2="522.86" y2="239.0" stroke="#ff00ff" stroke-width="7" stroke-linecap="round" stroke-dasharray="8.40 15.80"/>
<circle cx="464.15" cy="239.0" r="20.30" fill="#ff00ff"/>
</g>
<text class="leg" transform="translate(595.9 259.8) scale(1.109 1)" font-size="63.7">TARS</text>
<g transform="scale(1.0850 1)">
<line x1="394.19" y1="315.2" x2="522.86" y2="315.2" stroke="#0000ff" stroke-width="7" stroke-linecap="round" stroke-dasharray="8.40 15.80"/>
<circle cx="464.15" cy="315.2" r="20.30" fill="#0000ff"/>
</g>
<text class="leg" transform="translate(596.4 336.0) scale(1.076 1)" font-size="63.7">SMOC</text>
<g transform="scale(1.0850 1)">
<line x1="394.19" y1="391.4" x2="522.86" y2="391.4" stroke="#800000" stroke-width="7" stroke-linecap="round" stroke-dasharray="8.40 15.80"/>
<circle cx="464.15" cy="391.4" r="20.30" fill="#800000"/>
</g>
<text class="leg" transform="translate(596.6 412.2) scale(1.069 1)" font-size="63.7">M-SMOC</text>
</g>
<g id="ticklabels" font-size="54">
<text class="yt" text-anchor="end" transform="translate(280.0 1341.2) scale(1.036 1)">0</text>
<text class="yt" text-anchor="end" transform="translate(280.0 1089.8) scale(1.036 1)">2000</text>
<text class="yt" text-anchor="end" transform="translate(280.0 838.4) scale(1.036 1)">4000</text>
<text class="yt" text-anchor="end" transform="translate(280.0 587.0) scale(1.036 1)">6000</text>
<text class="yt" text-anchor="end" transform="translate(280.0 335.6) scale(1.036 1)">8000</text>
<text class="yt" text-anchor="end" transform="translate(280.0 84.2) scale(1.036 1)">10000</text>
<text class="xt" text-anchor="middle" transform="translate(324.0 1405) scale(1.036 1)">1000</text>
<text class="xt" text-anchor="middle" transform="translate(743.2 1405) scale(1.036 1)">2000</text>
<text class="xt" text-anchor="middle" transform="translate(1162.5 1405) scale(1.036 1)">3000</text>
<text class="xt" text-anchor="middle" transform="translate(1581.8 1405) scale(1.036 1)">4000</text>
<text class="xt" text-anchor="middle" transform="translate(2001.0 1405) scale(1.036 1)">5000</text>
</g>
<text id="xlabel" transform="translate(868.5 1500.2) scale(1.085 1)" font-size="63.1">Number of Sensors</text>
<text id="ylabel" transform="translate(96.5 931) rotate(-90) scale(1 1.08)" font-size="63.3">Network Stability</text>
</svg>
</body></html>
